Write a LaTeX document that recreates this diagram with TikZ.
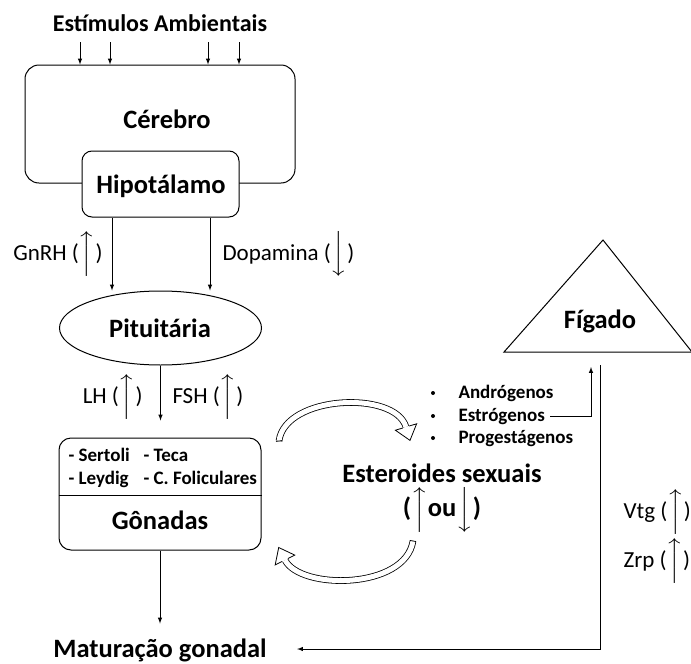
\documentclass[tikz,border=0pt]{standalone}
\usepackage{amsmath}
\usepackage{fontspec}
\setmainfont{Carlito}
\usetikzlibrary{shapes,arrows}
\usetikzlibrary{positioning,calc}
\newcommand{\setacima}{\smash{$\Big\uparrow$}}
\newcommand{\setabaixo}{\smash{$\Big\downarrow$}}

\begin{document}
\begin{tikzpicture}[x=1pt, y=-1pt,
    >=latex, line width=1pt,
every node/.style = {inner sep=0pt},
     titulo/.style = {font=\bfseries\fontsize{26.5}{30}\selectfont},
     rotulo/.style = {font=\fontsize{23}{26}\selectfont},
       item/.style = {font=\bfseries\fontsize{19}{22}\selectfont},
      caixa/.style = {draw, rounded corners=14pt},
      curva/.style = {double=white, double distance=5pt, line width=0.8pt}]
\useasboundingbox (0,0) rectangle (691,664);
% cerebro e hipotalamo
\node[font=\bfseries\fontsize{24}{28}\selectfont, anchor=base]
                                (estim)  at (160,31)  {Estímulos Ambientais};
\node[caixa, minimum width=270pt, minimum height=118pt]
                                (cer)    at (160,124) {};
\node[titulo, anchor=base]      (certx)  at (167,128) {Cérebro};
\node[caixa, rounded corners=10pt, fill=white,
      minimum width=157pt, minimum height=66pt]
                                (hipo)   at (160.5,184) {};
\node[titulo, anchor=base]      (hipotx) at (161,193) {Hipotálamo};
\foreach \x in {80,110,208,239}
    \draw[->] (\x,42) -- (\x,0 |- cer.north);
% pituitaria
\node[draw, ellipse, minimum width=202pt, minimum height=74pt]
                                (pit)    at (160.5,328) {};
\node[titulo, anchor=base]      (pittx)  at (160,337) {Pituitária};
    \draw[->] (112,0 |- hipo.south) -- (112,0 |- pit.north);
    \draw[->] (210,0 |- hipo.south) -- (210,0 |- pit.north);
\node[rotulo, anchor=base east] (gnrh)   at (103,260) {GnRH (\setacima)};
\node[rotulo, anchor=base west] (dopa)   at (222,260) {Dopamina (\setabaixo)};
% gonadas
\node[caixa, rounded corners=12pt, minimum width=202pt, minimum height=112pt]
                                (gon)    at (160,494) {};
    \draw (gon.west |- 0,495) -- (gon.east |- 0,495);
\node[item, anchor=base west]   (sert)   at (68,461)  {- Sertoli};
\node[item, anchor=base west]   (teca)   at (143,461) {- Teca};
\node[item, anchor=base west]   (leyd)   at (68,484)  {- Leydig};
\node[item, anchor=base west]   (foli)   at (143,484) {- C. Foliculares};
\node[titulo, anchor=base]      (gontx)  at (160,529) {Gônadas};
    \draw[->] (pit.south) -- ++(0,55);
\node[rotulo, anchor=base east] (lh)     at (143,403) {LH (\setacima)};
\node[rotulo, anchor=base west] (fsh)    at (172,403) {FSH (\setacima)};
\node[titulo, anchor=base]      (mat)    at (160,657) {Maturação gonadal};
    \draw[->] (gon.south) -- ++(0,73);
% esteroides
\node[titulo, anchor=base]      (ester)  at (442,482) {Esteroides sexuais};
\node[titulo, anchor=base]      (sobe)   at (442,516) {(\setacima ou\setabaixo)};
\foreach \y/\n/\t in {398/andr/Andrógenos, 421/estr/Estrógenos, 443/prog/Progestágenos}{
    \node[circle, fill, minimum size=4pt] (b\n) at (433,\y-5) {};
    \node[item, anchor=base west] (\n) at (458,\y) {\t};
}
% setas curvas
\draw[curva] (279,441) .. controls (285,395) and (395,390) .. (406,427);
\filldraw[fill=white, line width=0.8pt] (402.8,428) -- (395.4,430.2) -- (410,440.4)
    -- (416.6,423.8) -- (409.2,426);
\draw[line width=0.8pt] (276,441.4) -- (282,440.6);
\draw[curva] (413,541) .. controls (405,590) and (300,590) .. (285,560);
\filldraw[fill=white, line width=0.8pt] (288,558.5) -- (294.8,555.1) -- (278.7,547.5)
    -- (275.2,564.9) -- (282,561.5);
\draw[line width=0.8pt] (410,540.5) -- (416,541.5);
% figado
\draw (504,352) -- (603,240) -- (692,352) -- cycle;
\node[titulo, anchor=base]      (fig)    at (600,328) {Fígado};
\coordinate (topo)  at (600,365);
\coordinate (canto) at (600,649);
    \draw[->] (topo) -- (canto) -- ($(mat.east |- canto)+(30,0)$);
    \draw[->] ([xshift=5pt]estr.east) -| (591,367);
\node[rotulo, anchor=base west] (vtg)    at (623,518) {Vtg (\setacima)};
\node[rotulo, anchor=base west] (zrp)    at (623,567) {Zrp (\setacima)};
\end{tikzpicture}
\end{document}
